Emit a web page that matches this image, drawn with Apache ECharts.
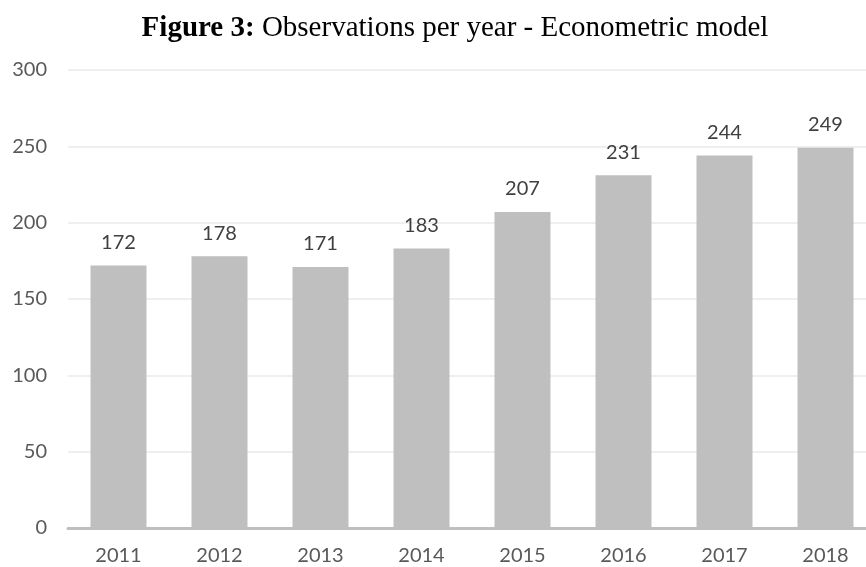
<!DOCTYPE html>
<html>
<head>
	<meta charset="utf-8">
	<title></title>
	<script src="https://cdn.jsdelivr.net/npm/echarts@6/dist/echarts.min.js"></script>
	<style>
		body { margin: 0; }
		#chart { width: 866px; height: 567px; }
	</style>
</head>
<body>
	<div id="chart"></div>
	<script>
		// data
		var years = ["2011", "2012", "2013", "2014", "2015", "2016", "2017", "2018"]
		var observations = [172, 178, 171, 183, 207, 231, 244, 249]

		var mCharts = echarts.init(document.getElementById("chart"))

		var opt = {
			animation: false,
			title: {
				text: "{b|Figure 3:} Observations per year - Econometric model",
				left: 450,
				top: 9,
				textAlign: "center",
				textStyle: {
					fontFamily: "Liberation Serif",
					fontSize: 29,
					fontWeight: "normal",
					color: "#000",
					rich: {
						b: { fontFamily: "Liberation Serif", fontSize: 29, fontWeight: "bold", color: "#000" }
					}
				}
			},
			grid: {
				left: 68,
				top: 70,
				bottom: 39,
				width: 808,
				outerBoundsMode: "none"
			},
			xAxis: {
				type: "category",
				data: years,
				axisTick: { show: false },
				axisLine: { lineStyle: { color: "#bfbfbf", width: 3 } },
				axisLabel: { color: "#595959", fontFamily: "Lato", fontSize: 20, margin: 18 }
			},
			yAxis: {
				type: "value",
				min: 0,
				max: 300,
				interval: 50,
				axisLine: { show: false },
				axisTick: { show: false },
				splitLine: { lineStyle: { color: "#efefef", width: 2 } },
				axisLabel: { color: "#595959", fontFamily: "Lato", fontSize: 20, margin: 21 }
			},
			series: [
				{
					type: "bar",
					data: observations,
					barWidth: 56,
					itemStyle: { color: "#bfbfbf" },
					label: {
						show: true,
						position: "top",
						distance: 13,
						color: "#404040",
						fontFamily: "Lato",
						fontSize: 20
					}
				}
			]
		}

		mCharts.setOption(opt)
	</script>
</body>
</html>
